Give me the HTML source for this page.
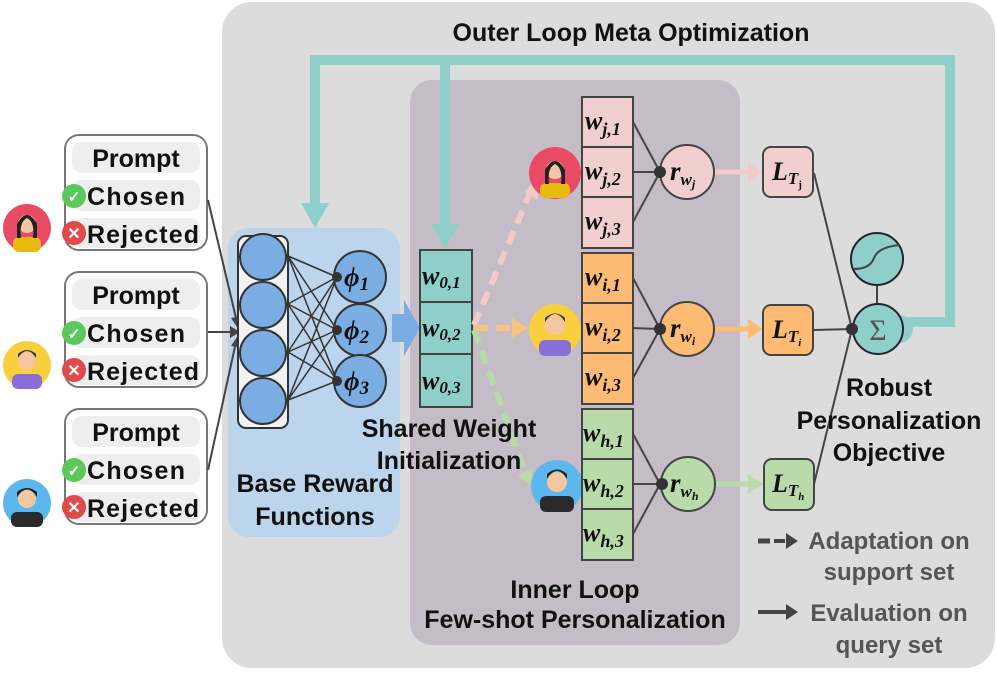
<!DOCTYPE html>
<html><head><meta charset="utf-8"><style>
body{margin:0;background:#fff}
svg{display:block}
text{font-family:"Liberation Sans",sans-serif;font-weight:bold}
.m text{font-family:"Liberation Serif",serif;font-style:italic;font-weight:bold}
</style></head><body>
<svg width="997" height="688" viewBox="0 0 997 688" xmlns="http://www.w3.org/2000/svg">
<rect x="222" y="2" width="773" height="666" rx="30" fill="#dcdcdc"/>
<rect x="410" y="80" width="330" height="565" rx="22" fill="#c4bcc6"/>
<rect x="228" y="228" width="172" height="309" rx="20" fill="#bcd5ec"/>
<text x="631" y="41" font-size="25" text-anchor="middle" fill="#111">Outer Loop Meta Optimization</text>

<g fill="none" stroke="#8ecfc9" stroke-width="10">
<path d="M900,322 H950 V60 H315 V205"/>
<path d="M445,60 V228"/>
</g>
<path d="M301,203 L329,203 L315,228z" fill="#8ecfc9"/>
<path d="M431,224 L459,224 L445,249z" fill="#8ecfc9"/>

<g font-size="25" fill="#111">
<g>
<rect x="65" y="135" width="142" height="115" rx="14" fill="#fff" stroke="#777" stroke-width="2"/>
<rect x="72" y="142" width="128" height="31" rx="10" fill="#eee"/>
<rect x="72" y="180" width="128" height="31" rx="10" fill="#eee"/>
<rect x="72" y="218" width="128" height="30" rx="10" fill="#eee"/>
<text x="136" y="167" text-anchor="middle">Prompt</text>
<text x="87" y="205" textLength="98">Chosen</text><text x="87" y="243" textLength="112">Rejected</text>
<circle cx="74" cy="196" r="12" fill="#5cc85c"/><text x="74" y="202" font-size="15" fill="#fff" text-anchor="middle">✓</text>
<circle cx="74" cy="233" r="12" fill="#e04a4a"/><text x="74" y="239" font-size="16" fill="#fff" text-anchor="middle">✕</text>
</g>
<g transform="translate(0,137)">
<rect x="65" y="135" width="142" height="115" rx="14" fill="#fff" stroke="#777" stroke-width="2"/>
<rect x="72" y="142" width="128" height="31" rx="10" fill="#eee"/>
<rect x="72" y="180" width="128" height="31" rx="10" fill="#eee"/>
<rect x="72" y="218" width="128" height="30" rx="10" fill="#eee"/>
<text x="136" y="167" text-anchor="middle">Prompt</text>
<text x="87" y="205" textLength="98">Chosen</text><text x="87" y="243" textLength="112">Rejected</text>
<circle cx="74" cy="196" r="12" fill="#5cc85c"/><text x="74" y="202" font-size="15" fill="#fff" text-anchor="middle">✓</text>
<circle cx="74" cy="233" r="12" fill="#e04a4a"/><text x="74" y="239" font-size="16" fill="#fff" text-anchor="middle">✕</text>
</g>
<g transform="translate(0,274)">
<rect x="65" y="135" width="142" height="115" rx="14" fill="#fff" stroke="#777" stroke-width="2"/>
<rect x="72" y="142" width="128" height="31" rx="10" fill="#eee"/>
<rect x="72" y="180" width="128" height="31" rx="10" fill="#eee"/>
<rect x="72" y="218" width="128" height="30" rx="10" fill="#eee"/>
<text x="136" y="167" text-anchor="middle">Prompt</text>
<text x="87" y="205" textLength="98">Chosen</text><text x="87" y="243" textLength="112">Rejected</text>
<circle cx="74" cy="196" r="12" fill="#5cc85c"/><text x="74" y="202" font-size="15" fill="#fff" text-anchor="middle">✓</text>
<circle cx="74" cy="233" r="12" fill="#e04a4a"/><text x="74" y="239" font-size="16" fill="#fff" text-anchor="middle">✕</text>
</g>
</g>

<g>
<circle cx="27" cy="228" r="24" fill="#e94b65"/><rect x="13" y="237" width="28" height="15" rx="6" fill="#e8b90f"/><circle cx="27" cy="224" r="9" fill="#f4c7a1"/><path d="M17,224 Q27,206 37,224 L37,238 L33,238 Q35,222 27,218 Q19,222 21,238 L17,238z" fill="#222"/>
<circle cx="27" cy="365" r="24" fill="#f8cf3c"/><rect x="12" y="374" width="30" height="15" rx="6" fill="#8a6ed8"/><circle cx="27" cy="361" r="9" fill="#f4c7a1"/><path d="M18,358 Q27,344 36,358 L36,354 Q27,346 18,354z" fill="#333"/>
<circle cx="27" cy="503" r="24" fill="#5cb8ec"/><rect x="11" y="512" width="32" height="15" rx="6" fill="#2a2a2a"/><circle cx="27" cy="499" r="9" fill="#f4c7a1"/><path d="M17,497 Q27,482 37,497 L37,492 Q27,484 17,492z" fill="#222"/>
</g>

<g stroke="#444" stroke-width="2" fill="none">
<line x1="208" y1="200" x2="236" y2="318"/>
<line x1="208" y1="332" x2="232" y2="332"/>
<line x1="208" y1="470" x2="236" y2="342"/>
</g>
<path d="M240,332 L230,326 L230,338z" fill="#444"/>
<path d="M239,330 L231,318 L242,316z" fill="#444"/>
<path d="M239,334 L231,346 L242,348z" fill="#444"/>

<rect x="238" y="236" width="50" height="192" rx="8" fill="#f2f2f2" stroke="#333" stroke-width="2"/>
<g stroke="#333" stroke-width="1.5">
<line x1="288" y1="256" x2="337" y2="277"/><line x1="288" y1="256" x2="337" y2="330"/><line x1="288" y1="256" x2="337" y2="381"/>
<line x1="288" y1="304" x2="337" y2="277"/><line x1="288" y1="304" x2="337" y2="330"/><line x1="288" y1="304" x2="337" y2="381"/>
<line x1="288" y1="352" x2="337" y2="277"/><line x1="288" y1="352" x2="337" y2="330"/><line x1="288" y1="352" x2="337" y2="381"/>
<line x1="288" y1="400" x2="337" y2="277"/><line x1="288" y1="400" x2="337" y2="330"/><line x1="288" y1="400" x2="337" y2="381"/>
</g>
<g fill="#7aaee3" stroke="#333" stroke-width="2">
<circle cx="263" cy="257" r="23"/><circle cx="263" cy="305" r="23"/><circle cx="263" cy="353" r="23"/><circle cx="263" cy="401" r="23"/>
<circle cx="360" cy="277" r="26"/><circle cx="360" cy="330" r="26"/><circle cx="360" cy="381" r="26"/>
</g>
<g fill="#333"><circle cx="337" cy="277" r="5"/><circle cx="337" cy="330" r="5"/><circle cx="337" cy="381" r="5"/></g>
<g class="m" font-size="27" fill="#111">
<text x="344" y="286">ϕ<tspan font-size="19" dy="4">1</tspan></text>
<text x="344" y="339">ϕ<tspan font-size="19" dy="4">2</tspan></text>
<text x="344" y="390">ϕ<tspan font-size="19" dy="4">3</tspan></text>
</g>
<path d="M392,314 H404 V300 L420,328 L404,356 V342 H392z" fill="#7aaee3"/>

<g stroke="#444" stroke-width="2" fill="#8ecfc9">
<rect x="420" y="250" width="52" height="52"/><rect x="420" y="302" width="52" height="52"/><rect x="420" y="354" width="52" height="53"/>
</g>
<g class="m" font-size="26" fill="#111">
<text x="422" y="284">w<tspan font-size="17" dy="4">0,1</tspan></text>
<text x="422" y="336">w<tspan font-size="17" dy="4">0,2</tspan></text>
<text x="422" y="389">w<tspan font-size="17" dy="4">0,3</tspan></text>
</g>

<g fill="none" stroke-width="6" stroke-dasharray="14,8">
<line x1="474" y1="325" x2="530" y2="193" stroke="#f2caca"/>
<line x1="474" y1="328" x2="515" y2="328" stroke="#f9c27d"/>
<line x1="474" y1="330" x2="525" y2="472" stroke="#b9dba9"/>
</g>
<path d="M536,180 L538,200 L524,192z" fill="#f2caca"/>
<path d="M528,328 L512,318 L512,338z" fill="#f9c27d"/>
<path d="M532,486 L518,476 L532,468z" fill="#b9dba9"/>

<circle cx="555" cy="173" r="26" fill="#e94b65"/><rect x="540" y="183" width="30" height="15" rx="6" fill="#e8b90f"/><circle cx="555" cy="170" r="9" fill="#f4c7a1"/><path d="M545,170 Q555,152 565,170 L565,184 L561,184 Q563,168 555,164 Q547,168 549,184 L545,184z" fill="#222"/>
<circle cx="555" cy="330" r="26" fill="#f8cf3c"/><rect x="539" y="340" width="32" height="16" rx="6" fill="#8a6ed8"/><circle cx="555" cy="325" r="10" fill="#f4c7a1"/><path d="M545,322 Q555,306 565,322 L565,318 Q555,309 545,318z" fill="#333"/>
<circle cx="557" cy="486" r="26" fill="#5cb8ec"/><rect x="540" y="496" width="34" height="16" rx="6" fill="#2a2a2a"/><circle cx="557" cy="482" r="10" fill="#f4c7a1"/><path d="M547,479 Q557,463 567,479 L567,474 Q557,465 547,474z" fill="#222"/>

<g stroke="#444" stroke-width="2">
<g fill="#f2cfcf"><rect x="582" y="97" width="51" height="50"/><rect x="582" y="147" width="51" height="50"/><rect x="582" y="197" width="51" height="51"/></g>
<g fill="#fdbb73"><rect x="582" y="253" width="51" height="50"/><rect x="582" y="303" width="51" height="50"/><rect x="582" y="353" width="51" height="51"/></g>
<g fill="#b9dba9"><rect x="582" y="409" width="51" height="50"/><rect x="582" y="459" width="51" height="50"/><rect x="582" y="509" width="51" height="51"/></g>
</g>
<g stroke="#444" stroke-width="2">
<line x1="633" y1="122" x2="660" y2="172"/><line x1="633" y1="172" x2="660" y2="172"/><line x1="633" y1="222" x2="660" y2="172"/>
<line x1="633" y1="278" x2="660" y2="329"/><line x1="633" y1="328" x2="660" y2="329"/><line x1="633" y1="378" x2="660" y2="329"/>
<line x1="633" y1="434" x2="660" y2="484"/><line x1="633" y1="484" x2="660" y2="484"/><line x1="633" y1="534" x2="660" y2="484"/>
</g>
<g class="m" font-size="26" fill="#111">
<text x="585" y="129">w<tspan font-size="18" dy="6">j,1</tspan></text>
<text x="585" y="179">w<tspan font-size="18" dy="6">j,2</tspan></text>
<text x="585" y="229">w<tspan font-size="18" dy="6">j,3</tspan></text>
<text x="585" y="285">w<tspan font-size="18" dy="6">i,1</tspan></text>
<text x="585" y="335">w<tspan font-size="18" dy="6">i,2</tspan></text>
<text x="585" y="385">w<tspan font-size="18" dy="6">i,3</tspan></text>
<text x="583" y="441">w<tspan font-size="18" dy="6">h,1</tspan></text>
<text x="583" y="491">w<tspan font-size="18" dy="6">h,2</tspan></text>
<text x="583" y="541">w<tspan font-size="18" dy="6">h,3</tspan></text>
</g>

<g stroke="#444" stroke-width="2">
<circle cx="687" cy="172" r="27" fill="#f2cfcf"/>
<circle cx="687" cy="329" r="27" fill="#fdbb73"/>
<circle cx="688" cy="484" r="27" fill="#b9dba9"/>
</g>
<g fill="#333"><circle cx="660" cy="172" r="6"/><circle cx="660" cy="329" r="6"/><circle cx="662" cy="484" r="6"/></g>
<g class="m" font-size="27" fill="#111">
<text x="670" y="180">r<tspan font-size="17" dy="5">w</tspan><tspan font-size="12" dy="3">j</tspan></text>
<text x="670" y="337">r<tspan font-size="17" dy="5">w</tspan><tspan font-size="12" dy="3">i</tspan></text>
<text x="670" y="492">r<tspan font-size="17" dy="5">w</tspan><tspan font-size="12" dy="3">h</tspan></text>
</g>

<g stroke-width="5">
<line x1="715" y1="172" x2="752" y2="172" stroke="#f2caca"/>
<line x1="715" y1="329" x2="752" y2="329" stroke="#fdbb73"/>
<line x1="716" y1="484" x2="752" y2="484" stroke="#b9dba9"/>
</g>
<path d="M763,172 L748,162 L748,182z" fill="#f2caca"/>
<path d="M763,329 L748,319 L748,339z" fill="#fdbb73"/>
<path d="M763,484 L748,474 L748,494z" fill="#b9dba9"/>

<g stroke="#444" stroke-width="2">
<rect x="763" y="147" width="50" height="50" rx="8" fill="#f2cfcf"/>
<rect x="763" y="305" width="50" height="50" rx="8" fill="#fdbb73"/>
<rect x="764" y="459" width="50" height="51" rx="8" fill="#b9dba9"/>
</g>
<g class="m" font-size="26" fill="#111">
<text x="772" y="180">L<tspan font-size="17" dy="4">T</tspan><tspan font-size="11" dy="4" style="font-style:normal">j</tspan></text>
<text x="772" y="338">L<tspan font-size="17" dy="4">T</tspan><tspan font-size="11" dy="4">i</tspan></text>
<text x="772" y="492">L<tspan font-size="17" dy="4">T</tspan><tspan font-size="11" dy="4">h</tspan></text>
</g>
<g stroke="#444" stroke-width="2">
<line x1="814" y1="173" x2="852" y2="329"/><line x1="814" y1="330" x2="852" y2="329"/><line x1="814" y1="484" x2="852" y2="329"/>
<line x1="877" y1="285" x2="877" y2="303"/>
</g>
<circle cx="899" cy="329" r="14" fill="#8ecfc9"/>
<circle cx="877" cy="259" r="26" fill="#8ecfc9" stroke="#223" stroke-width="2"/>
<path d="M854,269 Q870,269 874,258 Q878,247 900,245" fill="none" stroke="#444" stroke-width="2"/>
<circle cx="878" cy="329" r="25" fill="#8ecfc9" stroke="#223" stroke-width="2"/>
<text x="878" y="340" font-size="30" text-anchor="middle" fill="#555" style="font-family:'Liberation Serif',serif;font-weight:normal">Σ</text>
<circle cx="852" cy="329" r="6" fill="#333"/>

<g font-size="25" fill="#111" text-anchor="middle">
<text x="449" y="437">Shared Weight</text>
<text x="449" y="469">Initialization</text>
<text x="315" y="492">Base Reward</text>
<text x="315" y="525">Functions</text>
<text x="575" y="598">Inner Loop</text>
<text x="575" y="628">Few-shot Personalization</text>
<text x="889" y="396">Robust</text>
<text x="889" y="429">Personalization</text>
<text x="889" y="461">Objective</text>
</g>
<g font-size="24" fill="#555" text-anchor="middle">
<text x="889" y="549">Adaptation on</text>
<text x="889" y="580">support set</text>
<text x="889" y="621">Evaluation on</text>
<text x="889" y="653">query set</text>
</g>
<line x1="758" y1="541" x2="770" y2="541" stroke="#444" stroke-width="5"/>
<line x1="774" y1="541" x2="785" y2="541" stroke="#444" stroke-width="4"/>
<path d="M798,541 L786,533 L786,549z" fill="#444"/>
<line x1="758" y1="612" x2="786" y2="612" stroke="#444" stroke-width="4"/>
<path d="M798,612 L786,604 L786,620z" fill="#444"/>
</svg>
</body></html>
